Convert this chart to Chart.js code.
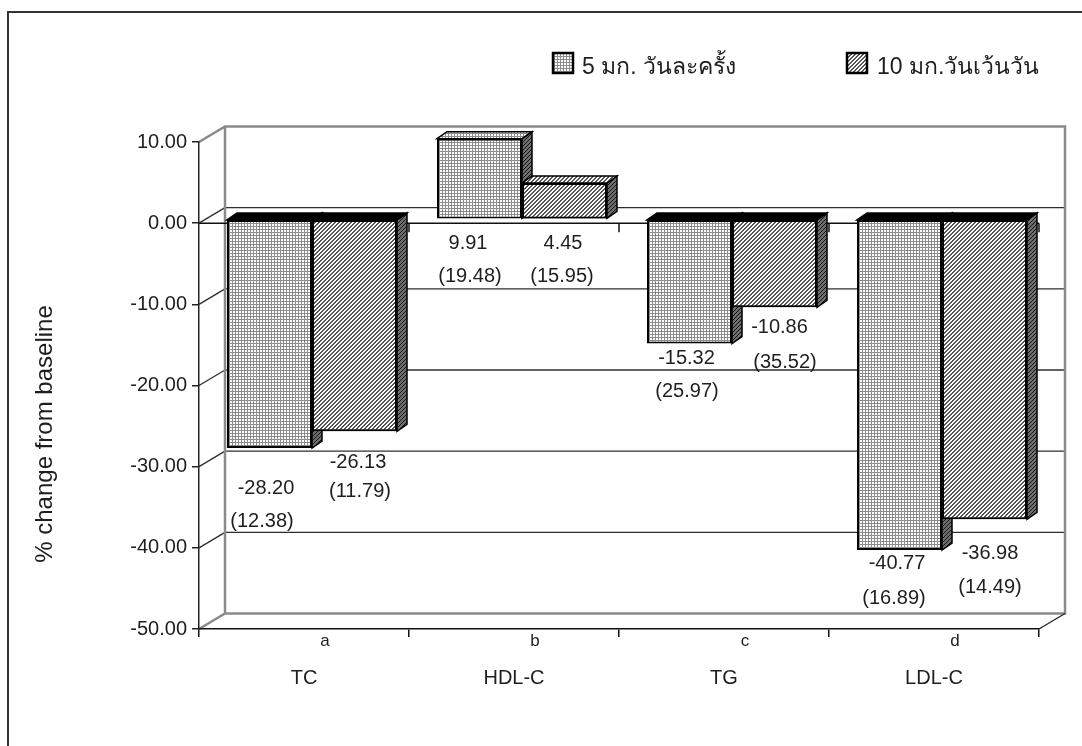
<!DOCTYPE html>
<html>
<head>
<meta charset="utf-8">
<script src="https://cdn.jsdelivr.net/npm/chart.js@4/dist/chart.umd.min.js"></script>
<style>
  html, body { margin: 0; padding: 0; background: #fff; }
  canvas { display: block; }
</style>
</head>
<body>
<canvas id="c" width="1082" height="746"></canvas>
<script>
// Lipid parameters, % change from baseline (mean and SD) for the two dosing schedules
const categories = ['TC', 'HDL-C', 'TG', 'LDL-C'];
const groupLetters = ['a', 'b', 'c', 'd'];
const seriesNames = ['5 มก. วันละครั้ง', '10 มก.วันเว้นวัน'];
const dailyMean = [-28.20, 9.91, -15.32, -40.77];
const dailySD = [12.38, 19.48, 25.97, 16.89];
const altMean = [-26.13, 4.45, -10.86, -36.98];
const altSD = [11.79, 15.95, 35.52, 14.49];
const yMin = -50, yMax = 10, yStep = 10;
const yTitle = '% change from baseline';

// label placement: [dx value, dy value, dx sd, dy sd] from the centre / lower edge of a bar's front face
const dailyLabelPos = [[-3.5, 40, -7.5, 73], [-11.5, 25, -9.5, 58], [-3, 15, -2.5, 48], [-2.5, 13, -5.5, 48]];
const altLabelPos = [[3.5, 31, 5.5, 60], [-1.5, 25, -2.5, 58], [5, 20, 10.5, 55], [5.5, 34, 5.5, 68]];

const FONT = '"Liberation Sans", Arial, "Noto Sans", sans-serif';
const TEXT = '#1e1e1e';
const WALL = { x: 26, y: -15.5 };  // depth of the side/back walls
const SHIFT = { x: 8, y: -4 };     // bars sit a little behind the front plane
const DEPTH = { x: 10, y: -7 };    // bar thickness

const canvas = document.getElementById('c');
const ctx0 = canvas.getContext('2d');

function tile(size, paint) {
  const t = document.createElement('canvas');
  t.width = t.height = size;
  const g = t.getContext('2d');
  paint(g, size);
  return ctx0.createPattern(t, 'repeat');
}
// fine mesh fill
const meshFill = tile(3, (g, n) => {
  g.fillStyle = '#fff'; g.fillRect(0, 0, n, n);
  g.fillStyle = '#8c8c8c'; g.fillRect(0, 2, 3, 1); g.fillRect(2, 0, 1, 3);
});
// diagonal hatch fill
const hatchFill = tile(4, (g, n) => {
  g.fillStyle = '#fff'; g.fillRect(0, 0, n, n);
  g.fillStyle = '#555';
  for (let x = 0; x < n; x++) for (let y = 0; y < n; y++) if ((x + y) % 4 < 2) g.fillRect(x, y, 1, 1);
});
// darker hatch for the side faces
const sideFill = tile(4, (g, n) => {
  g.fillStyle = '#6e6e6e'; g.fillRect(0, 0, n, n);
  g.fillStyle = '#141414';
  for (let x = 0; x < n; x++) for (let y = 0; y < n; y++) if ((x + y) % 4 === 0) g.fillRect(x, y, 1, 1);
});
const fronts = [meshFill, hatchFill];

function line(ctx, x1, y1, x2, y2) {
  ctx.beginPath(); ctx.moveTo(x1, y1); ctx.lineTo(x2, y2); ctx.stroke();
}

function drawFaces(ctx, bar, ds) {
  const { x, y, base, width } = bar.getProps(['x', 'y', 'base', 'width'], true);
  const l = x - width / 2, r = x + width / 2;
  const top = Math.min(y, base), bot = Math.max(y, base);
  ctx.lineWidth = 1.5; ctx.strokeStyle = '#000'; ctx.lineJoin = 'miter';
  ctx.beginPath();
  ctx.moveTo(r, top); ctx.lineTo(r + DEPTH.x, top + DEPTH.y);
  ctx.lineTo(r + DEPTH.x, bot + DEPTH.y); ctx.lineTo(r, bot); ctx.closePath();
  ctx.fillStyle = sideFill; ctx.fill(); ctx.stroke();
  ctx.beginPath();
  ctx.moveTo(l, top); ctx.lineTo(l + DEPTH.x, top + DEPTH.y);
  ctx.lineTo(r + DEPTH.x, top + DEPTH.y); ctx.lineTo(r, top); ctx.closePath();
  ctx.fillStyle = y < base ? fronts[ds] : '#000'; ctx.fill(); ctx.stroke();
}

const box3d = {
  id: 'box3d',
  beforeDraw(chart) {
    const { ctx, chartArea: a, scales: { y } } = chart;
    ctx.save();
    // outer frame
    ctx.strokeStyle = '#333'; ctx.lineWidth = 2;
    ctx.beginPath(); ctx.moveTo(8, 800); ctx.lineTo(8, 12); ctx.lineTo(1200, 12); ctx.stroke();
    // back wall grid and side wall grid
    ctx.strokeStyle = '#2e2e2e'; ctx.lineWidth = 1.3;
    for (let v = yMax - yStep; v > yMin; v -= yStep) {
      const py = y.getPixelForValue(v);
      line(ctx, a.left + WALL.x, py + WALL.y, a.right + WALL.x, py + WALL.y);
      line(ctx, a.left, py, a.left + WALL.x, py + WALL.y);
    }
    // wall edges
    ctx.strokeStyle = '#8a8a8a'; ctx.lineWidth = 2.5;
    const bx0 = a.left + WALL.x, bx1 = a.right + WALL.x;
    const by0 = a.top + WALL.y, by1 = a.bottom + WALL.y;
    ctx.beginPath();
    ctx.moveTo(a.left, a.top); ctx.lineTo(bx0, by0); ctx.lineTo(bx1, by0); ctx.lineTo(bx1, by1);
    ctx.lineTo(bx0, by1); ctx.lineTo(a.left, a.bottom);
    ctx.moveTo(bx0, by0); ctx.lineTo(bx0, by1);
    ctx.stroke();
    ctx.strokeStyle = '#222'; ctx.lineWidth = 1.3;
    line(ctx, a.right, a.bottom, bx1, by1);
    ctx.restore();
  },
  beforeDatasetsDraw(chart) {
    const { ctx, chartArea: a, scales: { x, y } } = chart;
    ctx.save();
    // category line along the zero level
    const y0 = y.getPixelForValue(0);
    const step = x.getPixelForValue(1) - x.getPixelForValue(0);
    ctx.strokeStyle = '#111'; ctx.lineWidth = 1.5;
    line(ctx, a.left, y0, a.right, y0);
    for (let i = 1; i <= categories.length; i++) {
      const px = x.getPixelForValue(i - 1) + step / 2;
      line(ctx, px, y0, px, y0 + 9);
    }
    ctx.restore();
    ctx.save();
    ctx.translate(SHIFT.x, SHIFT.y);
  },
  afterDatasetsDraw(chart) {
    const ctx = chart.ctx;
    const m0 = chart.getDatasetMeta(0), m1 = chart.getDatasetMeta(1);
    m0.data.forEach(bar => drawFaces(ctx, bar, 0));
    m1.data.forEach(bar => bar.draw(ctx));
    m1.data.forEach(bar => drawFaces(ctx, bar, 1));
    ctx.restore();
  },
  afterDraw(chart) {
    const { ctx, chartArea: a, scales: { x } } = chart;
    ctx.save();
    ctx.fillStyle = TEXT;
    ctx.textAlign = 'center'; ctx.textBaseline = 'middle';
    // value and SD labels
    const sets = [[dailyMean, dailySD, dailyLabelPos], [altMean, altSD, altLabelPos]];
    ctx.font = '20px ' + FONT;
    sets.forEach(([means, sds, pos], ds) => {
      chart.getDatasetMeta(ds).data.forEach((bar, i) => {
        const { x: bx, y: by, base } = bar.getProps(['x', 'y', 'base'], true);
        const low = Math.max(by, base) + SHIFT.y;
        const cx = bx + SHIFT.x;
        const p = pos[i];
        ctx.fillText(means[i].toFixed(2), cx + p[0], low + p[1]);
        ctx.fillText('(' + sds[i].toFixed(2) + ')', cx + p[2], low + p[3]);
      });
    });
    // group letters on the floor
    ctx.font = '17px ' + FONT;
    groupLetters.forEach((g, i) => ctx.fillText(g, x.getPixelForValue(i) + 21, a.bottom + 12));
    // axis title
    ctx.save();
    ctx.translate(45, 434);
    ctx.rotate(-Math.PI / 2);
    ctx.font = '24px ' + FONT;
    ctx.fillText(yTitle, 0, 0);
    ctx.restore();
    // legend
    const items = [[553, 582], [847, 877]];
    ctx.textAlign = 'left'; ctx.textBaseline = 'alphabetic';
    ctx.font = '23px ' + FONT;
    items.forEach(([bx, tx], i) => {
      ctx.fillStyle = fronts[i]; ctx.fillRect(bx, 53, 20, 20);
      ctx.strokeStyle = '#000'; ctx.lineWidth = 2.5; ctx.strokeRect(bx, 53, 20, 20);
      ctx.fillStyle = TEXT; ctx.fillText(seriesNames[i], tx, 74);
    });
    ctx.restore();
  }
};

const barStyle = { borderColor: '#000', borderWidth: 2, borderSkipped: false, clip: false };

new Chart(canvas, {
  type: 'bar',
  data: {
    labels: categories,
    datasets: [
      { label: seriesNames[0], data: dailyMean, backgroundColor: meshFill, ...barStyle },
      { label: seriesNames[1], data: altMean, backgroundColor: hatchFill, ...barStyle }
    ]
  },
  options: {
    responsive: false,
    animation: false,
    devicePixelRatio: 1,
    layout: { padding: { left: 0, top: 142, right: 43, bottom: 0 } },
    datasets: { bar: { categoryPercentage: 170 / 210, barPercentage: 1 } },
    plugins: { legend: { display: false }, tooltip: { enabled: false } },
    scales: {
      x: {
        afterFit(s) { s.height = 117; },
        grid: { drawOnChartArea: false, offset: true, tickLength: 8, color: '#111', lineWidth: 1.5 },
        border: { color: '#111', width: 1.5 },
        ticks: { font: { size: 20, family: FONT }, color: TEXT, padding: 29, maxRotation: 0, autoSkip: false }
      },
      y: {
        min: yMin, max: yMax,
        afterFit(s) { s.width = 199; },
        grid: { drawOnChartArea: false, tickLength: 7, color: '#222', lineWidth: 1.5 },
        border: { color: '#222', width: 1.5 },
        ticks: { stepSize: yStep, font: { size: 20, family: FONT }, color: TEXT, padding: 5,
                 callback: v => Number(v).toFixed(2) }
      }
    }
  },
  plugins: [box3d]
});
</script>
</body>
</html>
